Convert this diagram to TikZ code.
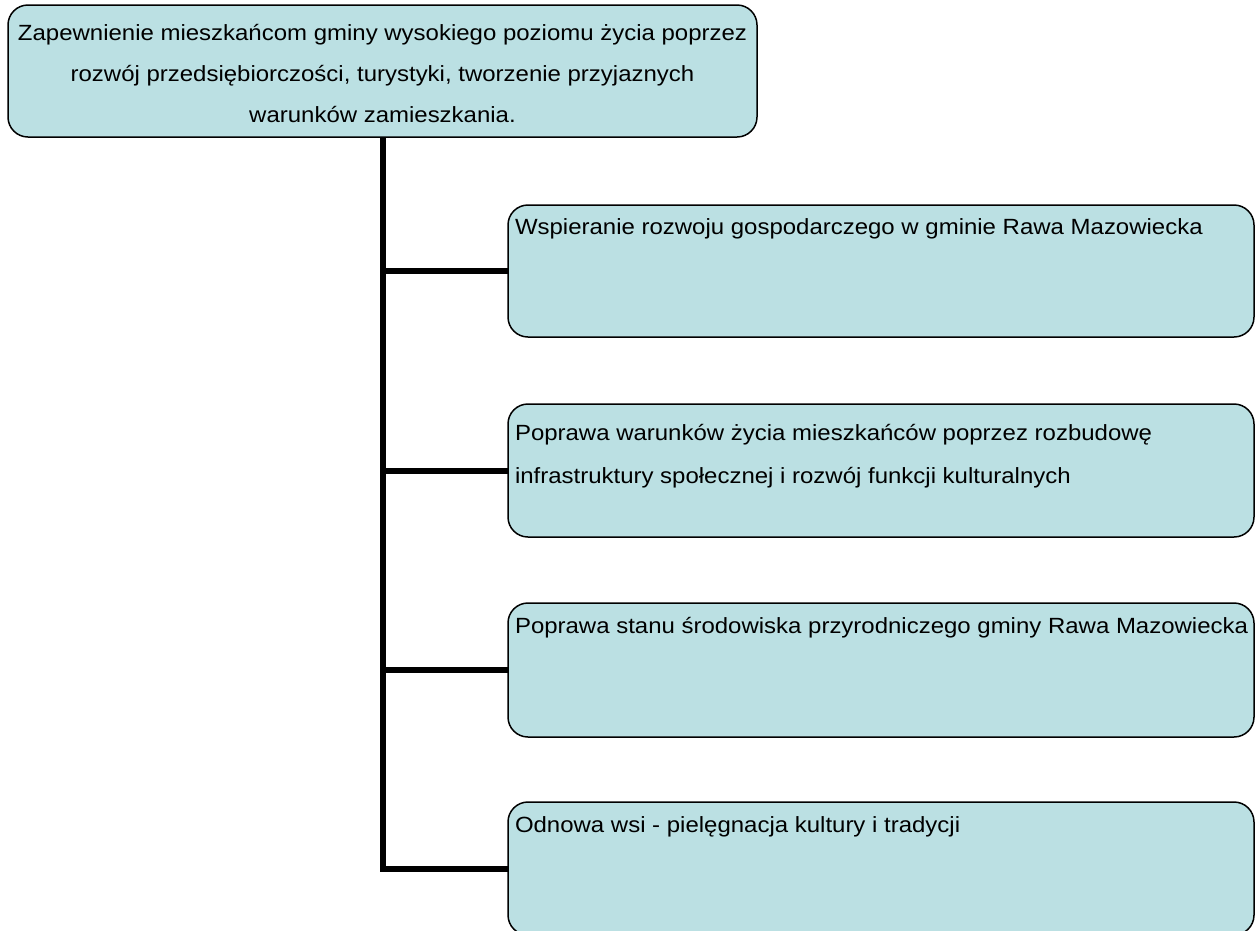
\documentclass[tikz,border=0pt]{standalone}
\usepackage{fontspec}
\setmainfont[FakeStretch=1.09]{Liberation Sans}
\definecolor{boxfill}{RGB}{187,224,227}
\begin{document}
\begin{tikzpicture}[x=1pt,y=-1pt,
  box/.style={draw=black, line width=1.5pt, fill=boxfill, rounded corners=20pt,
    rectangle, inner sep=0pt, outer sep=0pt, anchor=north west},
  conn/.style={line width=6pt, line join=miter, draw=black},
  txt/.style={inner sep=0pt, outer sep=0pt, font=\fontsize{22}{42}\selectfont}]
\clip (0,0) rectangle (1257,930);
\fill[white] (0,0) rectangle (1257,930);
\node[box, minimum width=749pt, minimum height=132pt] (top) at (8,5) {};
\node[box, minimum width=746pt, minimum height=132pt] (b1) at (508,205) {};
\node[box, minimum width=746pt, minimum height=133pt] (b2) at (508,404) {};
\node[box, minimum width=746pt, minimum height=134pt] (b3) at (508,603) {};
\node[box, minimum width=746pt, minimum height=133pt] (b4) at (508,802) {};
\draw[conn] (top.south) |- (b4.west);
\draw[conn] (top.south |- b1.west) -- (b1.west);
\draw[conn] (top.south |- b2.west) -- (b2.west);
\draw[conn] (top.south |- b3.west) -- (b3.west);
\node[txt, align=center, anchor=base, font=\fontsize{22}{41}\selectfont] (ttop) at (382.5,122)
  {Zapewnienie mieszkańcom gminy wysokiego poziomu życia poprzez\\
   rozwój przedsiębiorczości, turystyki, tworzenie przyjaznych\\
   warunków zamieszkania.};
\node[txt, anchor=base west] (t1) at (515,234) {Wspieranie rozwoju gospodarczego w gminie Rawa Mazowiecka};
\node[txt, align=left, anchor=base west, font=\fontsize{22}{43}\selectfont] (t2) at (515,483)
  {Poprawa warunków życia mieszkańców poprzez rozbudowę\\
   infrastruktury społecznej i rozwój funkcji kulturalnych};
\node[txt, anchor=base west] (t3) at (515,633) {Poprawa stanu środowiska przyrodniczego gminy Rawa Mazowiecka};
\node[txt, anchor=base west] (t4) at (515,832) {Odnowa wsi - pielęgnacja kultury i tradycji};
\end{tikzpicture}
\end{document}
